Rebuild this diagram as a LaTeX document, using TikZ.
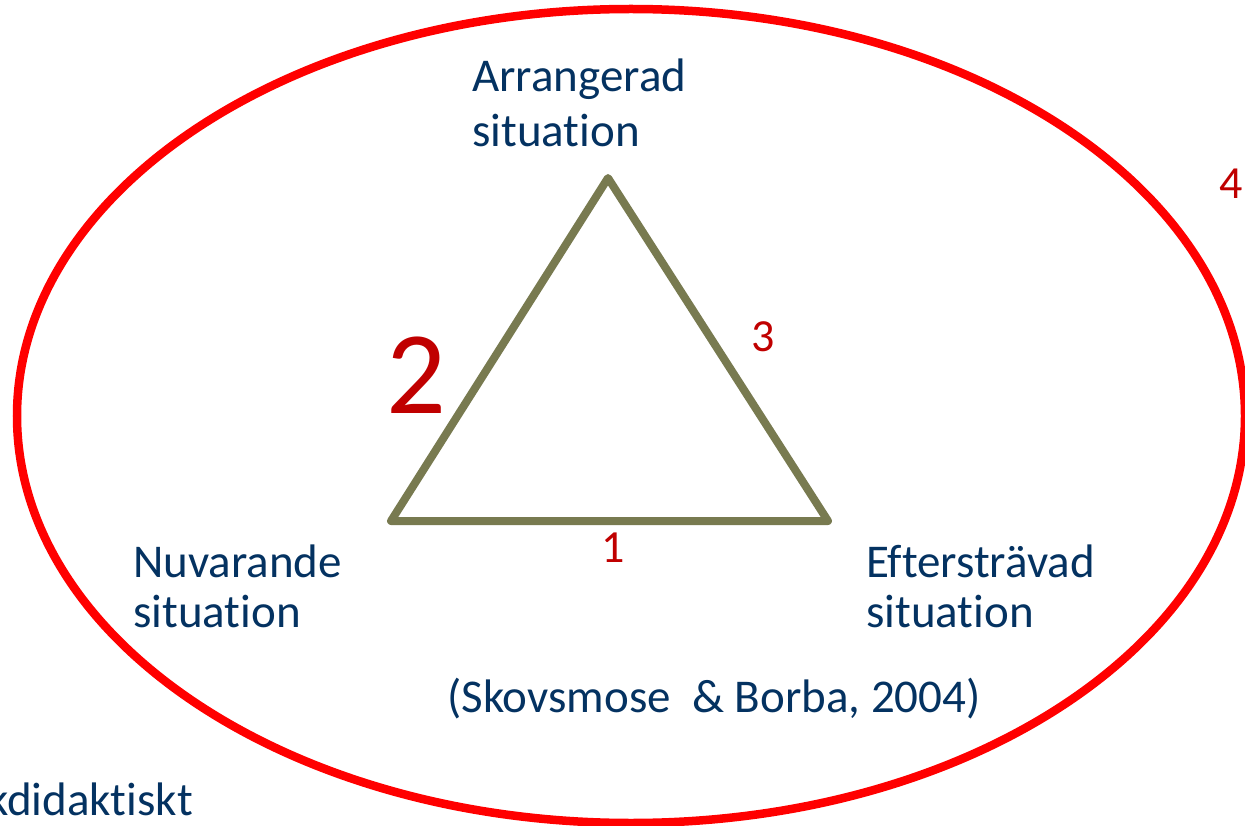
\documentclass[tikz,border=0pt]{standalone}
\usepackage{fontspec}
\setmainfont{Carlito}[RawFeature={-liga;-calt;-clig;-dlig}]
\usepackage{xcolor}
\definecolor{navy}{RGB}{4,50,97}
\definecolor{numred}{RGB}{192,0,0}
\definecolor{olive}{RGB}{120,122,80}

\begin{document}
\begin{tikzpicture}[x=1pt,y=-1pt,
  situ/.style={text=navy, inner sep=0pt, align=left, anchor=base west,
    font=\fontsize{47}{50}\selectfont},
  num/.style={text=numred, inner sep=0pt, anchor=base west,
    font=\fontsize{46}{50}\selectfont}]
  \useasboundingbox (0,0) rectangle (1245,826);

  % Outer context
  \draw[red, line width=8.5pt] (631,416) ellipse [x radius=614, y radius=407];

  % Triangle corners
  \coordinate (top) at (608,178);
  \coordinate (left) at (391,521);
  \coordinate (right) at (828,521);
  \draw[olive, line width=8pt, line join=round] (top) -- (left) -- (right) -- cycle;

  % Situations (base = last line)
  \node[situ, font=\fontsize{47}{55}\selectfont] (arr) at (472,147) {Arrangerad\\situation};
  \node[situ] (nuv) at (133,627) {Nuvarande\\situation};
  \node[situ] (eft) at (866,627) {Eftersträvad\\situation};
  \node[situ] (ref) at (447,712) {(Skovsmose\ \ \& Borba, 2004)};
  \node[situ, anchor=base east] (kdid) at (193,815) {kdidaktiskt};

  % Numbers
  \node[num] (n1) at (601,562) {1};
  \node[num, font=\fontsize{118}{120}\selectfont] (n2) at (386,413) {2};
  \node[num] (n3) at (751,352) {3};
  \node[num] (n4) at (1219,199) {4};
\end{tikzpicture}
\end{document}
